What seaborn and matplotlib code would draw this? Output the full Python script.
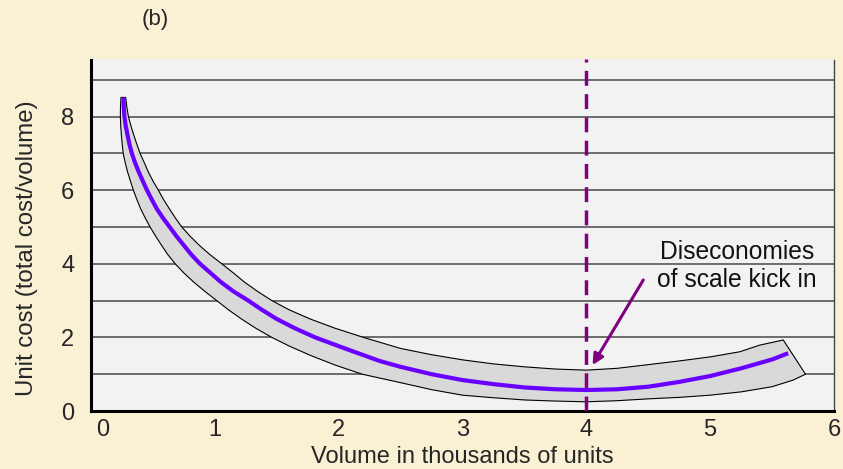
import matplotlib
matplotlib.use("Agg")
import matplotlib.pyplot as plt
import matplotlib.transforms as mtransforms
import seaborn as sns

# Centre line of the unit cost curve (volume in thousands, unit cost).
curve_x = [0.262, 0.265, 0.27, 0.28, 0.295, 0.31, 0.33, 0.355, 0.385, 0.418,
           0.452, 0.49, 0.53, 0.58, 0.635, 0.69, 0.75, 0.81, 0.88, 0.965,
           1.05, 1.15, 1.27, 1.38, 1.5, 1.645, 1.81, 2.05, 2.33, 2.5, 2.75,
           3.0, 3.25, 3.5, 3.75, 4.0, 4.25, 4.5, 4.75, 5.0, 5.25, 5.5, 5.63]
curve_y = [8.52, 8.25, 8.0, 7.75, 7.5, 7.25, 7.0, 6.75, 6.5, 6.25,
           6.0, 5.75, 5.5, 5.25, 5.0, 4.75, 4.5, 4.25, 4.0, 3.75,
           3.5, 3.25, 3.0, 2.75, 2.5, 2.25, 2.0, 1.70, 1.36, 1.20, 1.0,
           0.84, 0.73, 0.64, 0.59, 0.57, 0.59, 0.66, 0.79, 0.95, 1.16, 1.40, 1.57]

# Upper edge of the grey band, from the top left to the right end.
upper_x = [0.28, 0.29, 0.302, 0.322, 0.345, 0.37, 0.396, 0.43, 0.462, 0.5,
           0.544, 0.585, 0.632, 0.68, 0.733, 0.8, 0.875, 0.96, 1.056, 1.15,
           1.24, 1.345, 1.46, 1.6, 1.77, 1.97, 2.2, 2.5, 2.75, 3.0, 3.25,
           3.5, 3.75, 4.0, 4.25, 4.5, 4.75, 5.0, 5.24, 5.4, 5.51, 5.59, 5.77]
upper_y = [8.52, 8.25, 8.0, 7.75, 7.5, 7.25, 7.0, 6.75, 6.5, 6.25,
           6.0, 5.75, 5.5, 5.25, 5.0, 4.75, 4.5, 4.25, 4.0, 3.75,
           3.5, 3.25, 3.0, 2.75, 2.5, 2.25, 2.0, 1.70, 1.53, 1.39, 1.28,
           1.20, 1.14, 1.11, 1.16, 1.26, 1.36, 1.47, 1.61, 1.79, 1.87, 1.93, 1.0]

# Lower edge of the grey band, from the top left to the right end.
lower_x = [0.242, 0.238, 0.237, 0.24, 0.245, 0.252, 0.26, 0.276, 0.295, 0.318,
           0.342, 0.37, 0.4, 0.437, 0.477, 0.522, 0.57, 0.62, 0.68, 0.75,
           0.83, 0.92, 1.015, 1.11, 1.215, 1.33, 1.46, 1.61, 1.78, 1.97,
           2.19, 2.5, 2.75, 3.0, 3.25, 3.5, 3.75, 4.0, 4.25, 4.5, 4.75, 5.0,
           5.25, 5.5, 5.67, 5.77]
lower_y = [8.52, 8.25, 8.0, 7.75, 7.5, 7.25, 7.0, 6.75, 6.5, 6.25,
           6.0, 5.75, 5.5, 5.25, 5.0, 4.75, 4.5, 4.25, 4.0, 3.75,
           3.5, 3.25, 3.0, 2.75, 2.5, 2.25, 2.0, 1.75, 1.5, 1.25,
           1.0, 0.77, 0.58, 0.43, 0.36, 0.30, 0.27, 0.25, 0.28, 0.33, 0.37, 0.43,
           0.52, 0.66, 0.84, 1.0]

x_ticks = [0, 1, 2, 3, 4, 5, 6]
x_minor = [0.5, 1.5, 2.5, 3.5, 4.5, 5.5]
y_grid = [0, 1, 2, 3, 4, 5, 6, 7, 8, 9]
y_labels = ["0", "", "2", "", "4", "", "6", "", "8", ""]
threshold_x = 4
arrow_tail = (4.46, 3.56)
arrow_head = (4.05, 1.25)
note_text = "Diseconomies\nof scale kick in"
note_pos = (5.214, 3.94)

sns.set_style("white")
plt.rcParams["font.family"] = ["Liberation Sans", "DejaVu Sans"]

fig_bg = "#faf0d4"
fig = plt.figure(figsize=(8.43, 4.69), dpi=100, facecolor=fig_bg)
ax = fig.add_axes([91 / 843, 58 / 469, 743 / 843, 351.5 / 469])
ax.set_facecolor("#f2f2f2")

# Grey band with a thin black outline.
band_x = upper_x + lower_x[::-1]
band_y = upper_y + lower_y[::-1]
ax.fill(band_x, band_y, facecolor="#d9d9d9", edgecolor="black", lw=0.8, zorder=2)

# Centre curve.
sns.lineplot(x=curve_x, y=curve_y, ax=ax, color="#6a00ff", lw=3.0,
             sort=False, estimator=None, solid_capstyle="butt", zorder=3)

# Dashed threshold line.
ax.axvline(threshold_x, color="#800080", lw=2.5, dashes=(4.3, 2.4), zorder=4)

ax.annotate("", xy=arrow_head, xytext=arrow_tail,
            arrowprops=dict(arrowstyle="-|>", color="#800080", lw=2.2,
                            mutation_scale=16, shrinkA=0, shrinkB=0),
            zorder=5)
ax.text(note_pos[0], note_pos[1], note_text, ha="center", va="center",
        fontsize=17.7, linespacing=1.25, color="#111111")

ax.set_xlim(0, 6)
ax.set_ylim(0, 9.55)
ax.set_xticks(x_ticks)
ax.set_xticks(x_minor, minor=True)
ax.set_yticks(y_grid)
ax.set_yticklabels(y_labels)
ax.tick_params(axis="x", which="both", direction="in", length=9.5, width=1.2,
               color="black", labelsize=17, pad=6)
ax.tick_params(axis="y", length=0, labelsize=17, pad=12)
ax.grid(axis="y", color="#555555", lw=1.2)
ax.grid(axis="x", visible=False)
ax.set_axisbelow(True)

# The "0" label on the x axis sits a little to the right in the original.
first = ax.get_xticklabels()[0]
first.set_transform(first.get_transform()
                    + mtransforms.ScaledTranslation(12 / 100, 0, fig.dpi_scale_trans))

ax.spines["top"].set_visible(False)
ax.spines["left"].set_linewidth(2.2)
ax.spines["left"].set_color("black")
ax.spines["bottom"].set_linewidth(2.2)
ax.spines["bottom"].set_color("black")
ax.spines["right"].set_linewidth(1.0)
ax.spines["right"].set_color("#444444")

ax.set_xlabel("Volume in thousands of units", fontsize=17, labelpad=3)
ax.set_ylabel("Unit cost (total cost/volume)", fontsize=17.3)
ax.yaxis.set_label_coords(-0.071, 0.464)

fig.text(155 / 843, 1 - 20 / 469, "(b)", ha="center", va="center", fontsize=16)

fig.savefig("out.png", dpi=100, facecolor=fig_bg)
